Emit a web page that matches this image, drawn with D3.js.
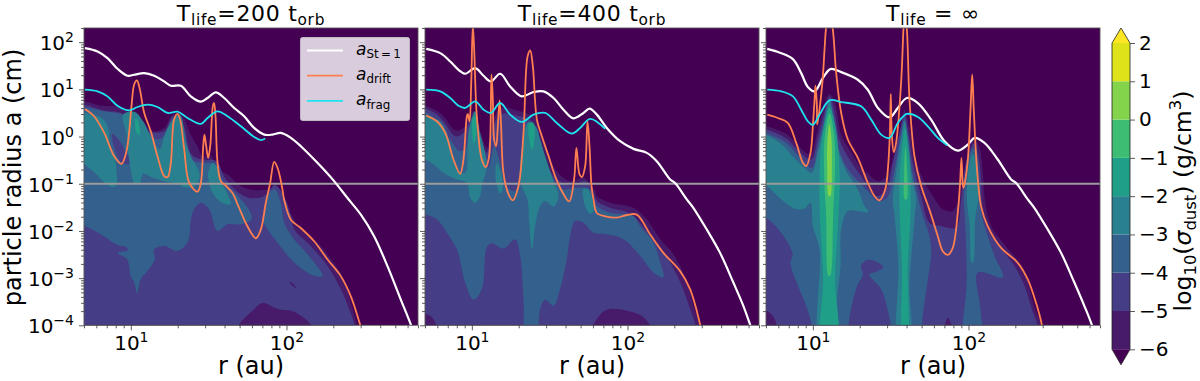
<!DOCTYPE html>
<html>
<head>
<meta charset="utf-8">
<script src="https://cdn.jsdelivr.net/npm/d3@7"></script>
<style>
  html, body { margin: 0; padding: 0; background: #fff; }
  svg { display: block; }
  text { font-family: "DejaVu Sans", sans-serif; fill: #000; }
</style>
</head>
<body>
<svg id="chart" width="1200" height="381"></svg>
<script>
// all curve and contour points are [log10 r (au), log10 a (cm)]
const panelTitles = [
  [["T"], ["life", "sub"], ["=200 t"], ["orb", "sub"]],
  [["T"], ["life", "sub"], ["=400 t"], ["orb", "sub"]],
  [["T"], ["life", "sub"], [" = \u221E"]]
];

const xMajor = [10, 100];
const xMinor = [5, 6, 7, 8, 9, 20, 30, 40, 50, 60, 70, 80, 90, 200, 300, 400, 500, 600, 700];
const yMajor = [1e-4, 1e-3, 1e-2, 1e-1, 1, 10, 100];
const yMinor = [2, 3, 4, 5, 6, 7, 8, 9].flatMap(m => [1e-4, 1e-3, 1e-2, 1e-1, 1, 10, 100].map(d => m * d)).filter(v => v <= 200);

const levels = [-6, -5, -4, -3, -2, -1, 0, 1, 2];
const bandColors = ["#471a6a", "#453d85", "#33608d", "#29808e", "#209f88", "#3dbc74", "#84d44b", "#dde318"];
const underColor = "#440154";
const overColor = "#fde725";

const stokesLine1 = [[.705,1.873],[.786,1.803],[.850,1.662],[.914,1.437],[.979,1.289],[1.021,1.310],[1.086,1.345],[1.150,1.289],[1.214,1.169],[1.257,1.077],[1.321,1.077],[1.385,.852],[1.450,.739],[1.493,.817],[1.546,.937],[1.600,.817],[1.664,.606],[1.728,.430],[1.792,.183],[1.857,.042],[1.910,.042],[1.964,.077],[2.028,-.028],[2.092,-.204],[2.199,-.556],[2.306,-.944],[2.392,-1.303],[2.478,-1.655],[2.563,-2.113],[2.649,-2.746],[2.734,-3.451],[2.799,-3.986],[2.82,-4.2]];
const driftLine1 = [[.705,.585],[.764,.430],[.829,.077],[.893,-.415],[.940,-.577],[.974,-.275],[1.004,.641],[1.021,1.099],[1.039,1.190],[1.056,1.028],[1.086,.5],[1.128,.113],[1.171,-.415],[1.214,-.838],[1.236,-.859],[1.257,-.556],[1.278,.359],[1.300,.479],[1.317,.359],[1.343,-.275],[1.375,-.979],[1.428,-1.169],[1.450,-.979],[1.465,-.204],[1.473,.042],[1.484,-.204],[1.497,-.451],[1.510,-.204],[1.527,.641],[1.535,.711],[1.544,.430],[1.557,-.556],[1.578,-.944],[1.604,-1.021],[1.653,-1.197],[1.696,-1.514],[1.749,-1.901],[1.803,-2.155],[1.835,-1.972],[1.867,-1.408],[1.895,-.986],[1.921,-.535],[1.946,-.697],[1.974,-1.120],[1.985,-1.338],[2.028,-1.761],[2.092,-1.937],[2.178,-2.218],[2.264,-2.606],[2.349,-2.958],[2.413,-3.380],[2.473,-3.986],[2.49,-4.2]];
const fragLine1 = [[.705,.993],[.786,.958],[.850,.852],[.914,.655],[.989,.556],[1.043,.627],[1.107,.676],[1.171,.627],[1.236,.5],[1.300,.528],[1.364,.394],[1.450,.268],[1.493,.394],[1.557,.535],[1.621,.430],[1.707,.218],[1.792,-.007],[1.835,-.077],[1.863,-.042]];

const stokesLine2 = [[.707,1.859],[.797,1.768],[.861,1.592],[.914,1.415],[.957,1.331],[1.021,1.451],[1.075,1.289],[1.122,1.169],[1.182,1.331],[1.246,1.063],[1.321,.852],[1.396,.944],[1.460,.958],[1.525,.817],[1.589,.570],[1.653,.387],[1.717,.5],[1.756,.592],[1.803,.465],[1.867,.183],[1.953,-.099],[2.039,-.261],[2.124,-.345],[2.188,-.521],[2.274,-.908],[2.306,-.986],[2.381,-1.331],[2.424,-1.514],[2.510,-1.972],[2.595,-2.465],[2.681,-3.099],[2.745,-3.592],[2.788,-3.986],[2.81,-4.2]];
const driftLine2 = [[.707,.444],[.775,.324],[.829,.077],[.882,-.486],[.925,-.789],[.946,-.486],[.968,.430],[.974,.479],[.985,.324],[.996,1.134],[1.006,2.35],[1.015,1.838],[1.032,.430],[1.064,-.486],[1.090,-.648],[1.111,-.415],[1.126,1.310],[1.135,.782],[1.143,-.063],[1.156,-.204],[1.167,.218],[1.178,.768],[1.188,.218],[1.203,-.768],[1.236,-1.225],[1.263,-1.352],[1.300,-1.042],[1.332,.077],[1.358,1.697],[1.375,1.824],[1.392,1.486],[1.418,.359],[1.450,.007],[1.493,-.415],[1.535,-.838],[1.578,-1.155],[1.625,-1.373],[1.657,-.908],[1.672,-.239],[1.692,-.803],[1.707,-.859],[1.728,-.627],[1.743,.324],[1.756,-.204],[1.769,-1.049],[1.782,-1.338],[1.803,-1.620],[1.857,-1.690],[1.931,-1.718],[1.996,-1.662],[2.060,-1.655],[2.146,-2.077],[2.231,-2.465],[2.338,-2.852],[2.403,-3.239],[2.467,-3.986],[2.48,-4.2]];
const fragLine2 = [[.707,.993],[.797,.958],[.861,.817],[.914,.655],[.957,.606],[1.021,.746],[1.075,.570],[1.122,.5],[1.182,.711],[1.246,.465],[1.321,.310],[1.396,.465],[1.471,.5],[1.546,.289],[1.642,.063],[1.696,.183],[1.760,.373],[1.857,.162]];

const stokesLine3 = [[.707,1.859],[.797,1.768],[.872,1.641],[.925,1.345],[.968,1.049],[1.011,.958],[1.064,1.239],[1.113,1.430],[1.182,1.366],[1.289,1.204],[1.353,.993],[1.418,.606],[1.493,.408],[1.546,.606],[1.604,.817],[1.675,.711],[1.760,.359],[1.846,-.099],[1.931,-.296],[1.996,-.169],[2.039,-.028],[2.103,-.134],[2.188,-.486],[2.274,-.908],[2.306,-.986],[2.381,-1.331],[2.424,-1.514],[2.510,-1.972],[2.595,-2.465],[2.681,-3.099],[2.745,-3.592],[2.792,-3.986],[2.81,-4.2]];
const driftLine3 = [[.707,.465],[.775,.394],[.839,.289],[.893,-.134],[.936,-.556],[.957,-.627],[.985,-.345],[1.0,.218],[1.011,.782],[1.017,1.077],[1.026,.641],[1.028,.254],[1.060,1.099],[1.075,1.838],[1.084,2.275],[1.103,2.7],[1.128,2.275],[1.150,1.345],[1.182,.5],[1.225,-.063],[1.289,-.451],[1.353,-.979],[1.396,-1.261],[1.428,-1.352],[1.465,-1.120],[1.482,-.697],[1.495,.077],[1.501,.901],[1.507,.077],[1.520,-.331],[1.535,-.134],[1.567,1.134],[1.582,2.275],[1.589,2.68],[1.604,2.275],[1.621,.782],[1.653,-.415],[1.696,-1.049],[1.749,-1.549],[1.803,-2.113],[1.835,-2.430],[1.867,-2.507],[1.899,-2.359],[1.931,-1.620],[1.946,-.986],[1.955,-.451],[1.966,-1.085],[1.974,-1.014],[1.996,-.486],[2.013,.570],[2.024,1.310],[2.034,.570],[2.049,-.415],[2.064,-1.049],[2.081,-1.479],[2.124,-1.901],[2.210,-2.359],[2.317,-2.676],[2.381,-3.028],[2.435,-3.535],[2.471,-3.986],[2.48,-4.2]];
const fragLine3 = [[.707,.993],[.797,.958],[.872,.852],[.925,.570],[.968,.324],[1.0,.246],[1.043,.465],[1.107,.768],[1.182,.732],[1.310,.641],[1.375,.359],[1.439,.042],[1.493,-.028],[1.546,.289],[1.604,.479],[1.675,.415],[1.739,.218],[1.803,-.028],[1.863,-.183]];

// contour regions of log10(sigma_dust), painted in order: [lower level, ring]
const contours1 = [
  [-6, [[.657,.697],[.807,.654],[.936,.626],[1.032,.464],[1.086,.288],[1.139,.112],[1.214,.183],[1.268,.464],[1.332,.429],[1.379,.077],[1.428,-.205],[1.460,-.416],[1.514,-.416],[1.557,-.698],[1.621,-.803],[1.707,-1.05],[1.792,-1.134],[1.878,-1.120],[1.968,-1.155],[1.996,-1.437],[2.043,-1.719],[2.092,-1.965],[2.199,-2.247],[2.285,-2.599],[2.370,-3.022],[2.413,-3.514],[2.452,-3.979],[2.467,-4.571],[.657,-4.571]]],
  [-5, [[.657,.626],[.833,.549],[.940,.500],[1.011,.324],[1.111,.112],[1.214,.112],[1.272,.429],[1.336,.253],[1.390,-.381],[1.454,-.486],[1.550,-.522],[1.604,-.874],[1.657,-1.085],[1.754,-1.296],[1.857,-1.261],[1.925,-1.028],[1.989,-1.296],[2.028,-1.684],[2.049,-1.965],[2.156,-2.317],[2.263,-2.740],[2.349,-3.233],[2.403,-3.655],[2.435,-3.979],[2.445,-4.571],[.657,-4.571]]],
  [-6, [[1.664,-4.219],[1.696,-3.979],[1.771,-3.726],[1.846,-3.529],[1.942,-3.655],[2.049,-3.712],[2.156,-3.979],[2.199,-4.219]]],
  [-6, [[2.017,-3.078],[2.045,-3.127],[2.062,-3.219],[2.039,-3.163]]],
  [-4, [[.657,.556],[.829,.535],[.957,.464],[1.021,.429],[1.086,.183],[1.171,-.064],[1.225,.042],[1.289,.345],[1.332,.148],[1.385,-.486],[1.471,-.557],[1.535,-.571],[1.604,-1.015],[1.668,-1.191],[1.764,-1.578],[1.775,-1.754],[1.707,-1.860],[1.621,-1.860],[1.557,-2.0],[1.503,-1.543],[1.450,-1.402],[1.396,-1.613],[1.364,-2.247],[1.300,-2.423],[1.214,-2.317],[1.150,-2.388],[1.154,-2.599],[1.107,-2.846],[1.064,-3.022],[1.039,-3.317],[1.021,-3.092],[.998,-2.95],[.976,-2.599],[.915,-2.472],[.978,-2.409],[.974,-2.352],[.904,-2.282],[.807,-2.071],[.705,-1.895],[.636,-1.838]]],
  [-4, [[1.878,-1.965],[1.846,-1.754],[1.867,-1.543],[1.884,-1.226],[1.925,-1.120],[1.964,-1.416],[1.985,-1.824],[2.049,-2.177],[2.135,-2.493],[2.231,-2.951],[2.178,-2.951],[2.049,-2.669],[1.942,-2.247]]],
  [-5, [[.880,.056],[.919,-.050],[.961,-.275],[.996,-.557],[.946,-.571],[.904,-.345]]],
  [-3, [[.647,.464],[.811,.394],[.854,.183],[.865,-.169],[.897,-.451],[.908,-.733],[.908,-1.014],[.886,-1.071],[.833,-.979],[.769,-.768],[.705,-.592],[.647,-.451]]],
  [-3, [[.951,.465],[1.026,.521],[1.079,.323],[1.133,-.029],[1.186,-.275],[1.218,.042],[1.272,.380],[1.315,.464],[1.358,-.169],[1.390,-.451],[1.443,-.803],[1.411,-1.050],[1.336,-1.071],[1.304,-1.0],[1.229,-.958],[1.143,-.874],[1.079,-.789],[1.058,-.979],[1.026,-1.0],[.994,-.592],[.972,.042]]],
  [-3, [[1.529,-.557],[1.561,-.698],[1.587,-.979],[1.642,-1.437],[1.578,-1.388],[1.525,-1.191],[1.503,-.979],[1.496,-.768]]],
  [-2, [[1.032,.394],[1.047,.324],[1.056,.042],[1.039,.077],[1.026,.289]]]
];

const contours2 = [
  [-6, [[.647,.654],[.754,.584],[.818,.429],[.893,.133],[.946,.183],[1.011,.535],[1.064,.007],[1.096,-.240],[1.128,.183],[1.182,.605],[1.310,.535],[1.407,.394],[1.450,.007],[1.492,-.381],[1.546,-.733],[1.632,-.944],[1.717,-.874],[1.792,-1.155],[1.803,-1.261],[1.889,-1.402],[2.038,-1.507],[2.124,-1.754],[2.210,-2.177],[2.295,-2.493],[2.381,-3.057],[2.424,-3.585],[2.462,-3.979],[2.477,-4.571],[.647,-4.571]]],
  [-5, [[.647,.605],[.754,.514],[.818,.324],[.893,.007],[.946,.077],[1.011,.429],[1.064,-.099],[1.096,-.345],[1.128,.077],[1.182,.464],[1.310,.429],[1.385,.324],[1.428,-.064],[1.471,-.486],[1.525,-.838],[1.632,-1.036],[1.728,-.944],[1.777,-1.155],[1.803,-1.367],[1.889,-1.507],[2.006,-1.613],[2.081,-1.824],[2.178,-2.247],[2.263,-2.599],[2.349,-3.163],[2.402,-3.655],[2.435,-3.979],[2.445,-4.571],[.647,-4.571]]],
  [-6, [[.647,-3.726],[.707,-3.761],[.749,-3.853],[.779,-4.148],[.647,-4.219]]],
  [-6, [[1.760,-4.219],[1.803,-3.867],[1.867,-3.670],[1.996,-3.691],[2.103,-3.831],[2.167,-4.219]]],
  [-4, [[.647,.535],[.732,.464],[.796,.253],[.861,-.064],[.925,-.310],[.968,-.205],[1.0,.324],[1.043,-.064],[1.075,-.451],[1.107,-.662],[1.143,-.205],[1.182,-.557],[1.225,-1.05],[1.278,-1.155],[1.321,-.205],[1.353,.288],[1.407,.232],[1.443,-.099],[1.482,-.557],[1.525,-.944],[1.589,-1.120],[1.674,-1.085],[1.760,-1.120],[1.803,-1.472],[1.889,-1.613],[2.038,-1.684],[2.081,-1.895],[2.167,-2.247],[2.210,-2.669],[2.231,-2.986],[2.167,-2.881],[2.081,-2.528],[1.974,-2.177],[1.867,-2.071],[1.782,-2.036],[1.717,-1.824],[1.664,-1.789],[1.632,-2.106],[1.610,-2.599],[1.567,-3.233],[1.525,-3.585],[1.471,-3.458],[1.439,-3.655],[1.407,-4.571],[1.353,-4.571],[1.332,-3.444],[1.310,-2.528],[1.278,-2.177],[1.203,-2.374],[1.128,-2.261],[1.096,-2.352],[1.064,-3.233],[1.011,-3.458],[.957,-3.092],[.904,-2.388],[.839,-2.036],[.775,-1.754],[.700,-1.648],[.647,-1.578]]],
  [-3, [[.647,.443],[.700,.429],[.796,.324],[.850,-.029],[.871,-.416],[.914,-.733],[.957,-.768],[.978,.077],[1.021,.535],[1.053,.077],[1.085,-.345],[1.096,-.627],[1.064,-1.05],[1.053,-1.261],[1.021,-1.402],[.989,-1.296],[.968,-.979],[.904,-.909],[.818,-.768],[.754,-.592],[.700,-.486],[.647,-.451]]],
  [-3, [[1.160,-.557],[1.188,-.768],[1.197,-1.155],[1.182,-1.205],[1.154,-.944]]],
  [-3, [[1.364,.302],[1.407,.218],[1.450,-.205],[1.492,-.627],[1.535,-1.014],[1.557,-1.261],[1.525,-1.486],[1.471,-1.367],[1.439,-1.472],[1.407,-1.895],[1.387,-2.388],[1.370,-1.895],[1.357,-1.331],[1.321,-1.050],[1.310,-.627],[1.332,-.064]]],
  [-3, [[1.717,-1.106],[1.749,-1.134],[1.782,-1.578],[1.760,-1.634],[1.724,-1.437]]],
  [-2, [[1.006,.394],[1.026,.429],[1.023,-.064],[1.013,-.134]]],
  [-2, [[1.368,.288],[1.396,.288],[1.396,-.205],[1.385,-.275]]]
];

const contours3 = [
  [-6, [[.647,.253],[.707,.218],[.835,.042],[.899,-.169],[.985,-.381],[1.028,.112],[1.071,.605],[1.107,.901],[1.146,.676],[1.182,.042],[1.242,-.310],[1.328,-.733],[1.349,-.768],[1.417,-.944],[1.477,-.838],[1.520,-.381],[1.563,.183],[1.589,.570],[1.621,.183],[1.649,-.381],[1.713,-.944],[1.771,-1.261],[1.835,-1.543],[1.899,-1.578],[1.942,-1.261],[1.974,-.803],[2.0,-.275],[2.034,-.064],[2.071,-.240],[2.096,-.909],[2.107,-1.402],[2.145,-1.895],[2.220,-2.247],[2.317,-2.634],[2.381,-3.092],[2.428,-3.655],[2.467,-3.979],[2.477,-4.571],[.647,-4.571]]],
  [-5, [[.647,.183],[.707,.147],[.835,-.050],[.899,-.275],[.989,-.486],[1.032,-.029],[1.071,.464],[1.107,.85],[1.139,.535],[1.171,-.064],[1.229,-.451],[1.310,-.838],[1.407,-1.261],[1.471,-1.120],[1.514,-.557],[1.557,.077],[1.589,.464],[1.614,.077],[1.642,-.557],[1.696,-1.261],[1.749,-1.824],[1.824,-1.895],[1.921,-1.930],[1.953,-1.331],[1.979,-.627],[2.006,-.345],[2.034,-.148],[2.060,-.345],[2.081,-.944],[2.092,-1.613],[2.135,-2.036],[2.199,-2.317],[2.295,-2.740],[2.360,-3.163],[2.407,-3.655],[2.441,-3.979],[2.452,-4.571],[.647,-4.571]]],
  [-6, [[1.835,-4.219],[1.850,-3.972],[1.867,-3.845],[1.889,-3.972],[1.906,-4.219]]],
  [-4, [[.647,.112],[.707,.063],[.835,-.148],[.899,-.381],[.993,-.662],[1.028,-.275],[1.071,.324],[1.107,.80],[1.135,.394],[1.165,-.240],[1.220,-.662],[1.289,-.944],[1.364,-1.191],[1.417,-1.367],[1.477,-1.296],[1.525,-.698],[1.563,.007],[1.589,.373],[1.610,.007],[1.636,-.698],[1.685,-1.402],[1.707,-1.684],[1.749,-2.106],[1.760,-2.528],[1.739,-3.022],[1.702,-3.979],[1.702,-4.571],[.647,-4.571]]],
  [-4, [[1.978,-1.754],[1.970,-1.331],[1.985,-.768],[2.006,-.416],[2.030,-.240],[2.056,-.486],[2.071,-1.050],[2.081,-1.613],[2.124,-2.106],[2.167,-2.528],[2.220,-2.986],[2.060,-2.881],[2.077,-3.655],[2.086,-4.571],[1.978,-4.571],[1.989,-3.022]]],
  [-5, [[.647,-1.684],[.707,-1.740],[.796,-2.036],[.871,-2.493],[.856,-2.669],[.904,-3.162],[.957,-3.585],[.993,-4.007],[1.0,-4.571],[.647,-4.571]]],
  [-5, [[1.310,-2.740],[1.353,-2.613],[1.407,-2.648],[1.452,-2.775],[1.407,-2.866],[1.364,-2.923],[1.439,-3.233],[1.477,-3.620],[1.499,-3.979],[1.507,-4.571],[1.220,-4.571],[1.229,-3.979],[1.250,-3.585],[1.285,-3.162],[1.321,-2.923]]],
  [-6, [[.647,-3.655],[.711,-3.705],[.749,-3.831],[.771,-4.219],[.647,-4.219]]],
  [-3, [[.647,.063],[.707,.021],[.814,-.205],[.878,-.451],[.957,-.698],[.993,-.768],[1.032,-.346],[1.071,.253],[1.107,.75],[1.131,.323],[1.165,-.310],[1.220,-.768],[1.289,-1.120],[1.332,-1.472],[1.357,-1.599],[1.289,-1.578],[1.225,-1.578],[1.182,-1.965],[1.178,-2.740],[1.156,-3.444],[1.156,-4.571],[1.049,-4.571],[1.043,-2.388],[1.0,-1.895],[.985,-1.402],[.946,-1.528],[.882,-1.528],[.796,-1.331],[.707,-1.050],[.647,-.909]]],
  [-3, [[1.589,.323],[1.614,-.134],[1.636,-.838],[1.664,-1.331],[1.657,-1.613],[1.642,-2.177],[1.621,-3.092],[1.621,-4.571],[1.552,-4.571],[1.550,-2.740],[1.525,-1.684],[1.514,-1.331],[1.535,-.768],[1.567,-.064]]],
  [-3, [[2.030,-.360],[2.056,-.768],[2.064,-1.261],[2.043,-1.754],[2.030,-2.670],[2.019,-2.670],[2.008,-1.895],[1.991,-1.402],[1.991,-.979],[2.008,-.557]]],
  [-2, [[1.107,.626],[1.143,.253],[1.165,-.346],[1.173,-1.050],[1.165,-1.684],[1.143,-3.022],[1.154,-4.571],[1.058,-4.571],[1.066,-3.022],[1.045,-1.684],[1.043,-1.050],[1.049,-.346],[1.075,.253]]],
  [-2, [[1.591,.183],[1.612,-.275],[1.627,-.909],[1.627,-1.684],[1.610,-2.740],[1.604,-4.571],[1.582,-4.571],[1.572,-2.740],[1.559,-1.684],[1.557,-.909],[1.572,-.275]]],
  [-1, [[1.107,.499],[1.135,.077],[1.143,-.486],[1.139,-1.050],[1.131,-1.613],[1.111,-2.951],[1.100,-2.951],[1.085,-1.613],[1.075,-1.050],[1.071,-.486],[1.079,.077]]],
  [-1, [[1.595,-.205],[1.606,-.768],[1.604,-1.331],[1.591,-1.331],[1.587,-.768]]],
  [0, [[1.107,.274],[1.120,-.064],[1.122,-.627],[1.113,-1.261],[1.103,-1.261],[1.092,-.627],[1.094,-.064]]]
];

const panels = [
  {left: 84, contours: contours1, stokes: stokesLine1, drift: driftLine1, frag: fragLine1},
  {left: 425, contours: contours2, stokes: stokesLine2, drift: driftLine2, frag: fragLine2},
  {left: 766, contours: contours3, stokes: stokesLine3, drift: driftLine3, frag: fragLine3}
];

const legendItems = [
  {sub: "St\u2009=\u20091", color: "#ffffff", width: 2.2},
  {sub: "drift", color: "#ff7f50", width: 1.8},
  {sub: "frag", color: "#1de4ee", width: 1.8}
];

const panelWidth = 334, plotTop = 28, plotBottom = 325.3;
const svg = d3.select("#chart");

const bandColor = d3.scaleThreshold().domain(levels.slice(1, -1)).range(bandColors);

// tspans with sub/superscripts, dy is relative so keep track of the offset
function richText(sel, parts, size) {
  let prev = 0;
  parts.forEach(p => {
    let off = p[1] == "sub" ? size * 0.22 : p[1] == "sup" ? -size * 0.4 : 0;
    let t = sel.append("tspan")
      .attr("dy", off - prev)
      .style("font-size", (p[1] ? size * 0.7 : size) + "px")
      .text(p[0]);
    if (p[2]) t.style("font-style", "italic");
    prev = off;
  });
  return sel;
}

function powerLabel(v) {
  let e = Math.round(Math.log10(v));
  return [["10"], [(e < 0 ? "\u2212" : "") + Math.abs(e), "sup"]];
}

const y = d3.scaleLog().domain([1e-4, 200]).range([plotBottom, plotTop]);

panels.forEach((p, i) => {
  const x = d3.scaleLog().domain([5, 700]).range([p.left, p.left + panelWidth]);
  const g = svg.append("g");
  const clipId = "clip" + i;
  g.append("clipPath").attr("id", clipId).append("rect")
    .attr("x", p.left).attr("y", plotTop).attr("width", panelWidth).attr("height", plotBottom - plotTop);

  const plot = g.append("g").attr("clip-path", `url(#${clipId})`);
  plot.append("rect").attr("x", p.left).attr("y", plotTop)
    .attr("width", panelWidth).attr("height", plotBottom - plotTop).attr("fill", underColor);

  const ring = d3.line()
    .x(d => x(10 ** d[0])).y(d => y(10 ** d[1]))
    .curve(d3.curveCatmullRomClosed.alpha(0.5));
  plot.selectAll("path.band").data(p.contours).enter().append("path")
    .attr("class", "band")
    .attr("d", d => ring(d[1]))
    .attr("fill", d => bandColor(d[0]));

  // a = 1 mm line
  plot.append("line")
    .attr("x1", p.left).attr("x2", p.left + panelWidth)
    .attr("y1", y(0.1)).attr("y2", y(0.1))
    .attr("stroke", "#999c9b").attr("stroke-width", 2);

  const curve = d3.line()
    .x(d => x(10 ** d[0])).y(d => y(10 ** d[1]))
    .curve(d3.curveCatmullRom.alpha(0.5));
  [[p.stokes, 0], [p.drift, 1], [p.frag, 2]].forEach(c => {
    plot.append("path")
      .attr("d", curve(c[0]))
      .attr("fill", "none")
      .attr("stroke", legendItems[c[1]].color)
      .attr("stroke-width", legendItems[c[1]].width);
  });

  // frame
  g.append("rect").attr("x", p.left).attr("y", plotTop)
    .attr("width", panelWidth).attr("height", plotBottom - plotTop)
    .attr("fill", "none").attr("stroke", "#555").attr("stroke-width", 0.9);

  // axes
  const xAxis = g.append("g").attr("transform", `translate(0,${plotBottom})`)
    .call(d3.axisBottom(x).tickValues(xMajor).tickSize(5).tickPadding(5).tickFormat(""));
  g.append("g").attr("transform", `translate(0,${plotBottom})`)
    .call(d3.axisBottom(x).tickValues(xMinor).tickSize(3).tickFormat(""));
  const yAxis = g.append("g").attr("transform", `translate(${p.left},0)`)
    .call(d3.axisLeft(y).tickValues(yMajor).tickSize(5).tickPadding(5).tickFormat(""));
  g.append("g").attr("transform", `translate(${p.left},0)`)
    .call(d3.axisLeft(y).tickValues(yMinor).tickSize(3).tickFormat(""));
  g.selectAll(".domain").remove();
  g.selectAll(".tick line").attr("stroke", "#333").attr("stroke-width", 0.8);

  xAxis.selectAll(".tick text").each(function(v) {
    richText(d3.select(this).attr("dy", null).attr("y", 25), powerLabel(v), 20);
  });
  if (i == 0) {
    yAxis.selectAll(".tick text").each(function(v) {
      richText(d3.select(this).attr("dy", null).attr("x", -10).attr("y", 7.5), powerLabel(v), 20);
    });
  }

  const cx = p.left + panelWidth / 2;
  richText(g.append("text").attr("x", cx).attr("y", 20.5).attr("text-anchor", "middle").style("letter-spacing", "0.7px"), panelTitles[i], 22);
  g.append("text").attr("x", cx).attr("y", 374).attr("text-anchor", "middle")
    .style("font-size", "24px").text("r (au)");
});

// y label
svg.append("text")
  .attr("transform", "translate(21,177.5) rotate(-90)")
  .attr("text-anchor", "middle")
  .style("font-size", "24px")
  .text("particle radius a (cm)");

// legend
const legend = svg.append("g");
legend.append("rect")
  .attr("x", 300.5).attr("y", 37.5).attr("width", 109).attr("height", 83).attr("rx", 2)
  .attr("fill", "rgba(255,255,255,0.8)").attr("stroke", "rgba(204,204,204,0.8)");
legendItems.forEach((d, i) => {
  let ly = 50.5 + i * 25.2;
  legend.append("line").attr("x1", 307).attr("x2", 343).attr("y1", ly).attr("y2", ly)
    .attr("stroke", d.color).attr("stroke-width", d.width);
  richText(legend.append("text").attr("x", 356).attr("y", ly + 4), [["a", null, true], [d.sub, "sub"]], 17);
});

// colorbar
const cbY = d3.scaleLinear().domain([-6, 2]).range([349.3, 43]);
const cb = svg.append("g");
const cbLeft = 1112, cbRight = 1130;
cb.selectAll("rect").data(bandColors).enter().append("rect")
  .attr("x", cbLeft).attr("width", cbRight - cbLeft)
  .attr("y", (d, i) => cbY(levels[i + 1]))
  .attr("height", (d, i) => cbY(levels[i]) - cbY(levels[i + 1]))
  .attr("fill", d => d);
cb.append("path")
  .attr("d", `M${cbLeft},${cbY(2)}L${(cbLeft + cbRight) / 2},${cbY(2) - 15}L${cbRight},${cbY(2)}Z`)
  .attr("fill", overColor);
cb.append("path")
  .attr("d", `M${cbLeft},${cbY(-6)}L${(cbLeft + cbRight) / 2},${cbY(-6) + 15.5}L${cbRight},${cbY(-6)}Z`)
  .attr("fill", underColor);
cb.append("path")
  .attr("d", `M${cbLeft},${cbY(2)}L${(cbLeft + cbRight) / 2},${cbY(2) - 15}L${cbRight},${cbY(2)}L${cbRight},${cbY(-6)}L${(cbLeft + cbRight) / 2},${cbY(-6) + 15.5}L${cbLeft},${cbY(-6)}Z`)
  .attr("fill", "none").attr("stroke", "#222").attr("stroke-width", 0.8);
const cbAxis = cb.append("g").attr("transform", `translate(${cbRight},0)`)
  .call(d3.axisRight(cbY).tickValues(levels).tickSize(5).tickPadding(4).tickFormat(d3.format("d")));
cbAxis.select(".domain").remove();
cbAxis.selectAll(".tick line").attr("stroke", "#333").attr("stroke-width", 0.8);
cbAxis.selectAll(".tick text").style("font-size", "20px").attr("font-family", null);

richText(svg.append("text")
  .attr("transform", "translate(1190.5,201) rotate(-90)")
  .attr("text-anchor", "middle"),
  [["log"], ["10", "sub"], ["("], ["\u03C3", null, true], ["dust", "sub"], [") (g/cm"], ["3", "sup"], [")"]], 23.5);
</script>
</body>
</html>
